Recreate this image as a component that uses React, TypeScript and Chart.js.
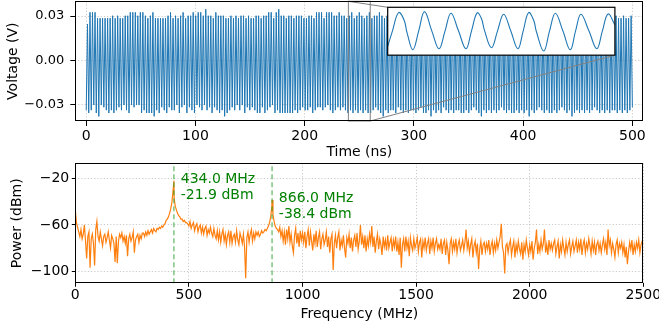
import React, { useEffect, useRef } from "react";
import { Chart, registerables } from "chart.js";

Chart.register(...registerables);

const FONT = "'DejaVu Sans', 'Liberation Sans', sans-serif";

// ---------- data ----------
const SIGNAL_FREQ_MHZ = 434;
const TIME_TICKS = [0, 100, 200, 300, 400, 500];
const VOLT_TICKS = [-0.03, 0, 0.03];
const FREQ_TICKS = [0, 500, 1000, 1500, 2000, 2500];
const POWER_TICKS = [-100, -60, -20];

// positive extremes of each cycle (mV)
const PEAKS_MV = [
  24.5, 32.5, 32.5, 32.5, 28.5, 28.5, 28.5, 28.5, 28.5, 28.5,
  30.2, 28.5, 30.2, 28.5, 28.5, 30.2, 30.2, 32.5, 32.5, 32.5,
  30.2, 32.5, 32.5, 30.2, 28.5, 30.2, 32.5, 28.5, 28.5, 28.5,
  28.5, 28.5, 30.2, 32.5, 28.5, 30.2, 28.5, 30.2, 32.5, 28.5,
  30.2, 30.2, 32.5, 30.2, 32.5, 32.5, 30.2, 34.6, 30.2, 30.2,
  28.5, 32.5, 30.2, 30.2, 30.2, 28.5, 28.5, 30.2, 28.5, 30.2,
  28.5, 30.2, 30.2, 28.5, 30.2, 28.5, 28.5, 30.2, 30.2, 28.5,
  30.2, 30.2, 32.5, 32.5, 28.5, 32.5, 34.6, 30.2, 30.2, 28.5,
  30.2, 30.2, 28.5, 30.2, 30.2, 30.2, 28.5, 28.5, 30.2, 30.2,
  28.5, 32.5, 32.5, 32.5, 28.5, 32.5, 32.5, 32.5, 30.2, 30.2,
  32.5, 30.2, 30.2, 28.5, 30.2, 32.5, 28.5, 30.2, 32.5, 30.2,
  28.5, 30.2, 32.5, 28.5, 30.2, 30.2, 32.5, 30.2, 28.5, 30.2,
  32.5, 30.2, 28.5, 28.5, 30.2, 32.5, 30.2, 30.2, 28.5, 32.5,
  30.2, 28.5, 30.2, 32.5, 32.5, 30.2, 28.5, 30.2, 30.2, 32.5,
  28.5, 30.2, 32.5, 30.2, 28.5, 30.2, 32.5, 30.2, 30.2, 28.5,
  30.2, 32.5, 30.2, 28.5, 30.2, 30.2, 32.5, 30.2, 28.5, 30.2,
  32.5, 30.2, 28.5, 30.2, 32.5, 30.2, 30.2, 28.5, 30.2, 32.5,
  30.2, 28.5, 30.2, 32.5, 30.2, 28.5, 30.2, 30.2, 32.5, 30.2,
  28.5, 30.2, 32.5, 30.2, 30.2, 28.5, 30.2, 32.5, 30.2, 28.5,
  30.2, 32.5, 30.2, 28.5, 30.2, 30.2, 32.5, 30.2, 28.5, 30.2,
  32.5, 30.2, 28.5, 28.5, 30.2, 28.5, 28.5, 30.2, 28.5, 28.5,
  30.2, 28.5, 28.5, 30.2, 28.5, 28.5, 30.2,
];

// negative extremes of each cycle (mV)
const TROUGHS_MV = [
  -34, -35.9, -34, -30.5, -35.9, -38.2, -30.5, -32, -34, -35.9,
  -34, -35.9, -34, -32, -34, -30.5, -34, -35.9, -30.5, -32,
  -30.5, -30.5, -35.9, -34, -35.9, -35.9, -35.9, -38.2, -34, -35.9,
  -32, -34, -35.9, -32, -34, -34, -30.5, -35.9, -32, -30.5,
  -35.9, -32, -34, -35.9, -30.5, -32, -34, -30.5, -34, -32,
  -35.9, -32, -34, -35.9, -34, -38.2, -35.9, -34, -32, -34,
  -30.5, -34, -30.5, -35.9, -32, -34, -32, -34, -35.9, -35.9,
  -32, -35.9, -34, -32, -30.5, -35.9, -34, -35.9, -35.9, -35.9,
  -35.9, -35.9, -35.9, -34, -35.9, -34, -32, -34, -34, -32,
  -35.9, -34, -32, -32, -34, -32, -30.5, -34, -35.9, -34,
  -32, -34, -32, -34, -35.9, -34, -35.9, -34, -35.9, -34,
  -35.9, -34, -35.9, -35.9, -34, -32, -34, -35.9, -38.2, -34,
  -35.9, -34, -34, -35.9, -32, -34, -35.9, -34, -35.9, -34,
  -34, -35.9, -34, -32, -35.9, -35.9, -34, -38.2, -34, -35.9,
  -34, -35.9, -32, -34, -35.9, -34, -35.9, -34, -34, -35.9,
  -35.9, -34, -35.9, -34, -32, -34, -35.9, -38.2, -34, -35.9,
  -34, -35.9, -34, -35.9, -34, -32, -34, -35.9, -34, -35.9,
  -35.9, -34, -35.9, -34, -35.9, -34, -38.2, -34, -35.9, -34,
  -32, -34, -35.9, -34, -35.9, -35.9, -34, -35.9, -34, -32,
  -34, -35.9, -34, -38.2, -35.9, -34, -35.9, -34, -35.9, -34,
  -35.9, -34, -32, -34, -35.9, -34, -35.9, -34, -35.9, -34,
  -34, -35.9, -34, -35.9, -34, -35.9, -34, -32,
];

// zoomed window 240-260 ns
const ZOOM_RANGE_NS = [240, 260];
const INSET_T_NS = [
  240.0, 240.42, 240.96, 241.45, 241.7, 242.22, 242.73, 243.24, 243.88, 244.52,
  245.05, 245.57, 246.23, 246.89, 247.38, 247.87, 248.25, 248.5, 249.13, 249.67,
  250.21, 250.83, 251.46, 251.93, 252.4, 252.85, 253.1, 253.74, 254.25, 254.76,
  255.42, 256.07, 256.54, 257.01, 257.71, 258.41, 258.9, 259.4, 260.0,
];
const INSET_MV = [
  -26.5, 0, 30.9, 18, -3, -32.1, 0, 32.6, 0, -30.4,
  0, 29.9, 0, -30.4, 0, 30.4, 21, 2, -28.7, 0,
  28.2, 0, -30.4, 0, 30.9, 18, -2, -34.3, 0, 29.9,
  0, -32.1, 0, 28.2, 0, -30.4, 0, 28.7, 10.1,
];

// power spectrum, 0..2500 MHz every 5 MHz (dBm)
const SPEC_STEP_MHZ = 5;
const SPECTRUM_DBM = [
  -47, -58, -62, -66, -70, -64, -72, -68, -60, -74, -89, -70, -66, -97, -72, -68, -76, -95, -64, -57,
  -70, -74, -66, -72, -78, -70, -68, -75, -71, -66, -73, -80, -69, -72, -76, -92, -70, -93, -74, -68,
  -71, -67, -74, -70, -76, -69, -87, -72, -68, -74, -71, -66, -84, -73, -70, -68, -75, -69, -72, -67,
  -67, -70, -66, -69, -65, -68, -66, -64, -67, -63, -65, -66, -63, -64, -62, -63, -61, -62, -60, -59,
  -56, -55, -53, -50, -46, -41, -31, -37, -44, -47, -50, -52, -53, -55, -55, -57, -56, -58, -58, -59,
  -61, -57, -63, -60, -58, -65, -61, -59, -66, -62, -60, -67, -62, -68, -63, -61, -69, -64, -67, -62,
  -67, -70, -63, -69, -72, -65, -73, -66, -75, -68, -64, -74, -68, -77, -69, -66, -75, -65, -76, -70,
  -68, -75, -65, -73, -77, -67, -71, -76, -68, -79, -106, -71, -66, -75, -68, -64, -74, -67, -72, -66,
  -69, -66, -70, -68, -65, -67, -66, -64, -65, -63, -61, -58, -53, -44, -51, -57, -61, -63, -64, -66,
  -62, -70, -65, -74, -66, -77, -64, -72, -61, -75, -68, -78, -84, -69, -63, -76, -67, -79, -65, -73,
  -67, -75, -66, -80, -70, -64, -78, -66, -74, -82, -68, -76, -65, -79, -71, -66, -81, -72, -68, -77,
  -73, -66, -79, -70, -84, -72, -68, -99, -76, -69, -80, -71, -66, -82, -73, -78, -69, -80, -88, -71,
  -76, -68, -80, -71, -83, -73, -69, -79, -67, -81, -74, -60, -77, -70, -80, -69, -83, -72, -78, -68,
  -75, -61, -79, -70, -84, -74, -68, -81, -72, -77, -86, -70, -79, -73, -82, -69, -80, -75, -71, -83,
  -73, -79, -70, -83, -75, -86, -71, -97, -77, -72, -83, -70, -80, -74, -87, -71, -78, -82, -72, -80,
  -76, -71, -83, -75, -72, -88, -74, -80, -71, -82, -76, -72, -85, -74, -80, -71, -83, -76, -72, -81,
  -77, -81, -72, -85, -76, -73, -86, -75, -82, -94, -76, -72, -83, -75, -81, -72, -84, -77, -73, -82,
  -78, -73, -82, -75, -64, -80, -74, -84, -77, -72, -88, -78, -74, -84, -76, -98, -81, -74, -86, -77,
  -75, -83, -76, -81, -73, -86, -78, -74, -84, -76, -82, -73, -80, -75, -70, -59, -79, -84, -102, -78,
  -76, -84, -77, -73, -86, -79, -74, -88, -77, -83, -74, -81, -85, -75, -90, -77, -83, -73, -80, -86,
  -77, -83, -74, -90, -80, -75, -64, -85, -77, -83, -73, -81, -76, -64, -84, -77, -86, -73, -81, -76,
  -82, -76, -73, -85, -79, -74, -89, -77, -83, -73, -80, -86, -75, -83, -77, -73, -85, -79, -74, -83,
  -78, -73, -84, -75, -81, -72, -86, -77, -73, -84, -76, -81, -72, -78, -85, -74, -82, -75, -86, -77,
  -74, -82, -76, -84, -77, -72, -81, -75, -86, -64, -78, -73, -84, -76, -81, -88, -77, -73, -84, -76,
  -80, -75, -84, -77, -88, -79, -94, -83, -75, -81, -73, -86, -77, -83, -75, -80, -73, -84, -77, -74,
  -76,
];

const PEAK_FREQ_MHZ = [434.0, 866.0];
const PEAK_DBM = [-21.9, -38.4];

// ---------- layout constants ----------
const W = 659;
const H = 327;
const AREA_L = 75.3;
const AREA_R = 643.3;
const TOP_T = 1.3;
const TOP_B = 121;
const BOT_T = 163.3;
const BOT_B = 283.3;
const T_RANGE = [-10, 510];
const V_RANGE = [-0.04135, 0.04];
const F_RANGE = [0, 2500];
const P_RANGE = [-110.4, -6.8];
const INSET_FRAC = [0.55, 0.55, 0.4, 0.4]; // left, bottom, width, height (axes fraction)
const LABEL_OFFSET_MHZ = 30;
const GRID_COLOR = "rgba(176,176,176,0.85)";
const MINUS = "\u2212";

function fmtMinus(s: string) {
  return s.replace("-", MINUS);
}

function xAxis(range: number[], ticks: number[], title: string, tickLen: number, tickPad: number, height: number) {
  return {
    type: "linear",
    position: "bottom",
    min: range[0],
    max: range[1],
    afterBuildTicks: (s: any) => {
      s.ticks = ticks.map((v) => ({ value: v }));
    },
    afterFit: (s: any) => {
      s.height = height;
      s.paddingLeft = 0;
      s.paddingRight = 0;
    },
    ticks: {
      font: { family: FONT, size: 14 },
      color: "#000",
      padding: tickPad,
      maxRotation: 0,
      minRotation: 0,
      autoSkip: false,
      callback: (v: any) => fmtMinus(String(v)),
    },
    grid: {
      color: GRID_COLOR,
      lineWidth: 0.8,
      drawTicks: true,
      tickLength: tickLen,
      tickColor: "#000",
      tickWidth: 1,
      tickBorderDash: [],
    },
    border: { display: false, dash: [1.2, 2] },
    title: { display: true, text: title, font: { family: FONT, size: 14 }, color: "#000", padding: 0 },
  };
}

function yAxis(range: number[], ticks: number[], title: string, fmt: (v: number) => string, fontSize: number, tickLen: number, tickPad: number, titlePad: number) {
  return {
    type: "linear",
    position: "left",
    min: range[0],
    max: range[1],
    afterBuildTicks: (s: any) => {
      s.ticks = ticks.map((v) => ({ value: v }));
    },
    afterFit: (s: any) => {
      s.width = AREA_L;
      s.paddingTop = 0;
      s.paddingBottom = 0;
    },
    ticks: {
      font: { family: FONT, size: fontSize },
      color: "#000",
      padding: tickPad,
      autoSkip: false,
      callback: (v: any) => fmt(Number(v)),
    },
    grid: {
      color: GRID_COLOR,
      lineWidth: 0.8,
      drawTicks: true,
      tickLength: tickLen,
      tickColor: "#000",
      tickWidth: 1,
      tickBorderDash: [],
    },
    border: { display: false, dash: [1.2, 2] },
    title: { display: true, text: title, font: { family: FONT, size: 14 }, color: "#000", padding: { top: titlePad, bottom: 0 } },
  };
}

const boxPlugin = {
  id: "frameBox",
  afterDraw(chart: any) {
    const { ctx, chartArea: a } = chart;
    ctx.save();
    ctx.strokeStyle = "#000";
    ctx.lineWidth = 1;
    const l = Math.round(a.left) + 0.5;
    const t = Math.round(a.top) + 0.5;
    const r = Math.round(a.right) - 0.5;
    const b = Math.round(a.bottom) - 0.5;
    ctx.strokeRect(l, t, r - l, b - t);
    ctx.restore();
  },
};

function insetRect(a: any) {
  const w = a.right - a.left;
  const h = a.bottom - a.top;
  const left = a.left + INSET_FRAC[0] * w;
  const right = left + INSET_FRAC[2] * w;
  const bottom = a.bottom - INSET_FRAC[1] * h;
  const top = bottom - INSET_FRAC[3] * h;
  return { left, right, top, bottom };
}

const common = {
  animation: false,
  responsive: false,
  maintainAspectRatio: false,
  devicePixelRatio: 1,
  events: [],
  plugins: { legend: { display: false }, tooltip: { enabled: false } },
};

export default function App() {
  const topRef = useRef<HTMLCanvasElement>(null);
  const insetRef = useRef<HTMLCanvasElement>(null);
  const botRef = useRef<HTMLCanvasElement>(null);

  useEffect(() => {
    document.body.style.margin = "0";
    const period = 1000 / SIGNAL_FREQ_MHZ;

    const signal: { x: number; y: number }[] = [];
    TROUGHS_MV.forEach((v, i) => {
      signal.push({ x: i * period, y: v / 1000 });
      if (i < PEAKS_MV.length) signal.push({ x: i * period + period / 2, y: PEAKS_MV[i] / 1000 });
    });

    const zoomPlugin = {
      id: "zoomMarks",
      afterDatasetsDraw(chart: any) {
        const { ctx, chartArea: a, scales } = chart;
        const xs = scales.x;
        const ys = scales.y;
        const x0 = xs.getPixelForValue(ZOOM_RANGE_NS[0]);
        const x1 = xs.getPixelForValue(ZOOM_RANGE_NS[1]);
        const y0 = ys.getPixelForValue(V_RANGE[1]);
        const y1 = ys.getPixelForValue(V_RANGE[0]);
        const ir = insetRect(a);
        ctx.save();
        ctx.strokeStyle = "#808080";
        ctx.lineWidth = 1;
        ctx.strokeRect(x0, y0, x1 - x0, y1 - y0);
        ctx.beginPath();
        ctx.moveTo(x0, y0);
        ctx.lineTo(ir.left, ir.top);
        ctx.moveTo(x1, y1);
        ctx.lineTo(ir.right, ir.bottom);
        ctx.stroke();
        ctx.restore();
      },
    };

    const top = new Chart(topRef.current as HTMLCanvasElement, {
      type: "line",
      data: {
        datasets: [
          {
            data: signal,
            borderColor: "#1f77b4",
            borderWidth: 1,
            pointRadius: 0,
            tension: 0,
            fill: false,
          },
        ],
      },
      options: {
        ...common,
        layout: { autoPadding: false, padding: { left: 0, top: TOP_T, right: W - AREA_R, bottom: H - TOP_B - 39.5 } },
        scales: {
          x: xAxis(T_RANGE, TIME_TICKS, "Time (ns)", 5, 1.5, 39.5),
          y: yAxis(V_RANGE, VOLT_TICKS, "Voltage (V)", (v) => fmtMinus(v.toFixed(2)), 13, 5, 6.1, 4.7),
        },
      } as any,
      plugins: [zoomPlugin, boxPlugin],
    });

    const ir = insetRect(top.chartArea);
    const insetData = INSET_T_NS.map((t, i) => ({ x: t, y: INSET_MV[i] / 1000 }));
    const insetFrame = {
      id: "insetFrame",
      beforeDraw(chart: any) {
        const { ctx, chartArea: a } = chart;
        ctx.save();
        ctx.fillStyle = "#fff";
        ctx.fillRect(a.left, a.top, a.right - a.left, a.bottom - a.top);
        ctx.restore();
      },
      afterDraw(chart: any) {
        const { ctx, chartArea: a } = chart;
        ctx.save();
        ctx.strokeStyle = "#000";
        ctx.lineWidth = 1.2;
        ctx.strokeRect(a.left, a.top, a.right - a.left, a.bottom - a.top);
        ctx.restore();
      },
    };
    const inset = new Chart(insetRef.current as HTMLCanvasElement, {
      type: "line",
      data: {
        datasets: [
          {
            data: insetData,
            borderColor: "#1f77b4",
            borderWidth: 1.1,
            pointRadius: 0,
            tension: 0.4,
            fill: false,
          },
        ],
      },
      options: {
        ...common,
        layout: { autoPadding: false, padding: { left: ir.left, top: ir.top, right: W - ir.right, bottom: H - ir.bottom } },
        scales: {
          x: { type: "linear", display: false, min: ZOOM_RANGE_NS[0], max: ZOOM_RANGE_NS[1] },
          y: { type: "linear", display: false, min: V_RANGE[0], max: V_RANGE[1] },
        },
      } as any,
      plugins: [insetFrame],
    });

    const spectrum: { x: number; y: number }[] = SPECTRUM_DBM.map((v, i) => ({ x: i * SPEC_STEP_MHZ, y: v }));
    PEAK_FREQ_MHZ.forEach((f, i) => spectrum.push({ x: f, y: PEAK_DBM[i] }));
    spectrum.sort((a, b) => a.x - b.x);

    const peakPlugin = {
      id: "peakMarks",
      afterDatasetsDraw(chart: any) {
        const { ctx, chartArea: a, scales } = chart;
        const xs = scales.x;
        const ys = scales.y;
        ctx.save();
        ctx.strokeStyle = "rgba(44,160,44,0.7)";
        ctx.lineWidth = 1.3;
        ctx.setLineDash([5, 3]);
        PEAK_FREQ_MHZ.forEach((f) => {
          const px = xs.getPixelForValue(f);
          ctx.beginPath();
          ctx.moveTo(px, a.bottom);
          ctx.lineTo(px, a.top);
          ctx.stroke();
        });
        ctx.setLineDash([]);
        ctx.fillStyle = "#008000";
        ctx.font = `14px ${FONT}`;
        ctx.textAlign = "left";
        ctx.textBaseline = "alphabetic";
        PEAK_FREQ_MHZ.forEach((f, i) => {
          const tx = xs.getPixelForValue(f + LABEL_OFFSET_MHZ);
          const ty = ys.getPixelForValue(PEAK_DBM[i]);
          ctx.fillText(`${f.toFixed(1)} MHz`, tx, ty + 2.5);
          ctx.fillText(`${PEAK_DBM[i].toFixed(1)} dBm`, tx, ty + 18.5);
        });
        ctx.restore();
      },
    };

    const bot = new Chart(botRef.current as HTMLCanvasElement, {
      type: "line",
      data: {
        datasets: [
          {
            data: spectrum,
            borderColor: "#ff7f0e",
            borderWidth: 1.2,
            pointRadius: 0,
            tension: 0,
            fill: false,
          },
        ],
      },
      options: {
        ...common,
        layout: { autoPadding: false, padding: { left: 0, top: BOT_T, right: W - AREA_R, bottom: H - BOT_B - 39.8 } },
        scales: {
          x: xAxis(F_RANGE, FREQ_TICKS, "Frequency (MHz)", 3.5, 0.6, 39.8),
          y: yAxis(P_RANGE, POWER_TICKS, "Power (dBm)", (v) => fmtMinus(String(v)), 14, 3.5, 2.6, 9.1),
        },
      } as any,
      plugins: [peakPlugin, boxPlugin],
    });

    return () => {
      top.destroy();
      inset.destroy();
      bot.destroy();
    };
  }, []);

  const cs: React.CSSProperties = { position: "absolute", left: 0, top: 0, width: W, height: H };
  return (
    <div style={{ position: "relative", width: W, height: H, background: "#fff", overflow: "hidden" }}>
      <canvas ref={topRef} width={W} height={H} style={cs} />
      <canvas ref={insetRef} width={W} height={H} style={cs} />
      <canvas ref={botRef} width={W} height={H} style={cs} />
    </div>
  );
}
